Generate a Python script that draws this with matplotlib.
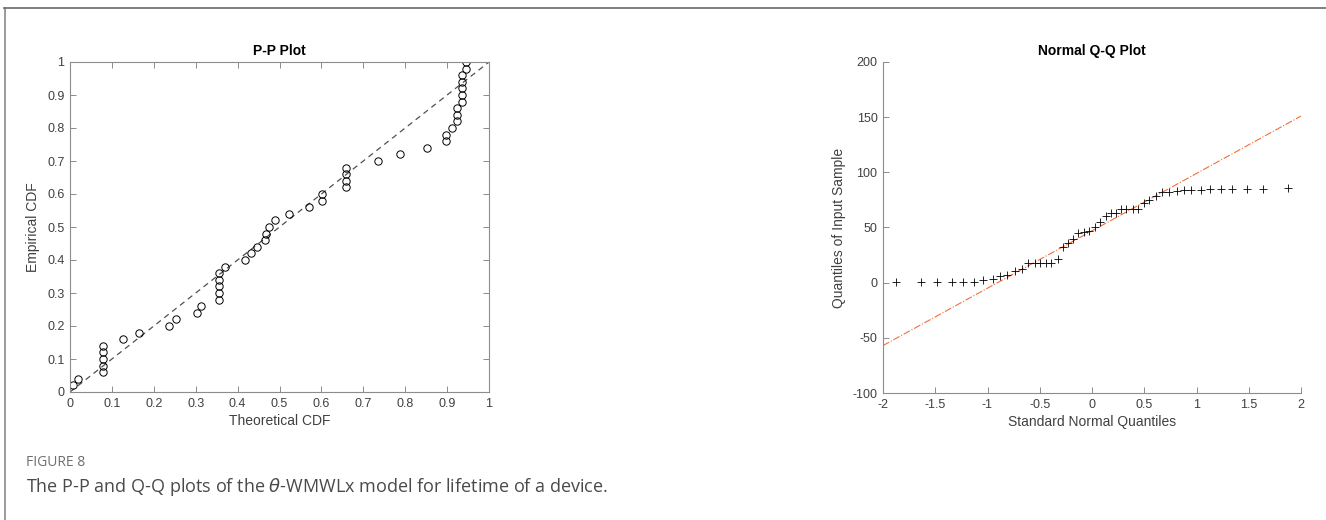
import matplotlib
matplotlib.use("Agg")
import matplotlib.pyplot as plt
from matplotlib.lines import Line2D
from matplotlib.ticker import FormatStrFormatter

plt.rcParams["font.family"] = ["Liberation Sans", "DejaVu Sans"]
plt.rcParams["axes.unicode_minus"] = False

# ----------------------------
# P-P plot data (theoretical vs empirical CDF)
# ----------------------------
pp_theoretical = [
    0.008, 0.020, 0.078, 0.078, 0.078, 0.078, 0.078, 0.127, 0.165, 0.236,
    0.253, 0.302, 0.312, 0.356, 0.356, 0.356, 0.356, 0.356, 0.371, 0.418,
    0.432, 0.446, 0.466, 0.468, 0.474, 0.489, 0.523, 0.570, 0.602, 0.602,
    0.658, 0.658, 0.658, 0.658, 0.736, 0.787, 0.853, 0.897, 0.897, 0.911,
    0.923, 0.923, 0.923, 0.935, 0.935, 0.935, 0.935, 0.935, 0.944, 0.944,
]
pp_empirical = [
    0.02, 0.04, 0.06, 0.08, 0.10, 0.12, 0.14, 0.16, 0.18, 0.20,
    0.22, 0.24, 0.26, 0.28, 0.30, 0.32, 0.34, 0.36, 0.38, 0.40,
    0.42, 0.44, 0.46, 0.48, 0.50, 0.52, 0.54, 0.56, 0.58, 0.60,
    0.62, 0.64, 0.66, 0.68, 0.70, 0.72, 0.74, 0.76, 0.78, 0.80,
    0.82, 0.84, 0.86, 0.88, 0.90, 0.92, 0.94, 0.96, 0.98, 1.00,
]
pp_diag = [0, 1]

# ----------------------------
# Q-Q plot data (standard normal quantiles vs sorted sample)
# ----------------------------
qq_normal = [
    -2.33, -1.88, -1.64, -1.48, -1.34, -1.23, -1.13, -1.04, -0.95, -0.88,
    -0.81, -0.74, -0.67, -0.61, -0.55, -0.50, -0.44, -0.39, -0.33, -0.28,
    -0.23, -0.18, -0.13, -0.08, -0.03, 0.03, 0.08, 0.13, 0.18, 0.23,
    0.28, 0.33, 0.39, 0.44, 0.50, 0.55, 0.61, 0.67, 0.74, 0.81,
    0.88, 0.95, 1.04, 1.13, 1.23, 1.34, 1.48, 1.64, 1.88, 2.33,
]
qq_sample = [
    0.1, 0.2, 1, 1, 1, 1, 1, 2, 3, 6,
    7, 11, 12, 18, 18, 18, 18, 18, 21, 32,
    36, 40, 45, 46, 47, 50, 55, 60, 63, 63,
    67, 67, 67, 67, 72, 75, 79, 82, 82, 83,
    84, 84, 84, 85, 85, 85, 85, 85, 86, 86,
]
qq_ref_x = [-2, 2]
qq_ref_y = [-57, 151]

pp_ticks = [0, 0.1, 0.2, 0.3, 0.4, 0.5, 0.6, 0.7, 0.8, 0.9, 1]
qq_xticks = [-2, -1.5, -1, -0.5, 0, 0.5, 1, 1.5, 2]
qq_yticks = [-100, -50, 0, 50, 100, 150, 200]

AX_COLOR = "#8c8c8c"
TXT_COLOR = "#404040"
TICK_SIZE = 9
LABEL_SIZE = 10

fig = plt.figure(figsize=(13.26, 5.2), dpi=100)

# ----------------------------
# P-P plot
# ----------------------------
ax1 = fig.add_axes([70 / 1326, 128 / 520, 419 / 1326, 330 / 520])
ax1.plot(pp_diag, pp_diag, linestyle=(0, (4.5, 3.5)), color="#505050", linewidth=0.9)
ax1.plot(pp_theoretical, pp_empirical, linestyle="none", marker="o",
         markersize=5.3, markerfacecolor="none", markeredgecolor="black",
         markeredgewidth=0.7)
ax1.set_xlim(0, 1)
ax1.set_ylim(0, 1)
ax1.set_xticks(pp_ticks)
ax1.set_yticks(pp_ticks)
ax1.xaxis.set_major_formatter(FormatStrFormatter("%g"))
ax1.yaxis.set_major_formatter(FormatStrFormatter("%g"))
ax1.tick_params(direction="in", length=4, width=0.7, color=AX_COLOR,
                labelcolor=TXT_COLOR, labelsize=TICK_SIZE, top=True, right=True, pad=4)
for s in ax1.spines.values():
    s.set_color(AX_COLOR)
    s.set_linewidth(0.8)
ax1.set_title("P-P Plot", fontsize=LABEL_SIZE, fontweight="bold", pad=5)
ax1.set_xlabel("Theoretical CDF", fontsize=LABEL_SIZE, color=TXT_COLOR, labelpad=3)
ax1.set_ylabel("Empirical CDF", fontsize=LABEL_SIZE, color=TXT_COLOR, labelpad=5)

# ----------------------------
# Q-Q plot
# ----------------------------
ax2 = fig.add_axes([883 / 1326, 127 / 520, 418 / 1326, 331 / 520])
ax2.plot(qq_ref_x, qq_ref_y, linestyle="-.", color="#f0703a", linewidth=0.8)
ax2.plot(qq_normal, qq_sample, linestyle="none", marker="+", markersize=5.5,
         color="black", markeredgewidth=0.6)
ax2.set_xlim(-2, 2)
ax2.set_ylim(-100, 200)
ax2.set_xticks(qq_xticks)
ax2.set_yticks(qq_yticks)
ax2.xaxis.set_major_formatter(FormatStrFormatter("%g"))
ax2.yaxis.set_major_formatter(FormatStrFormatter("%g"))
ax2.tick_params(direction="in", length=4, width=0.7, color=AX_COLOR,
                labelcolor=TXT_COLOR, labelsize=TICK_SIZE, pad=4)
ax2.spines["top"].set_visible(False)
ax2.spines["right"].set_visible(False)
for s in ("left", "bottom"):
    ax2.spines[s].set_color(AX_COLOR)
    ax2.spines[s].set_linewidth(0.8)
ax2.set_title("Normal Q-Q Plot", fontsize=LABEL_SIZE, fontweight="bold", pad=5)
ax2.set_xlabel("Standard Normal Quantiles", fontsize=LABEL_SIZE, color=TXT_COLOR, labelpad=3)
ax2.set_ylabel("Quantiles of Input Sample", fontsize=LABEL_SIZE, color=TXT_COLOR, labelpad=5)

# ----------------------------
# Frame and caption
# ----------------------------
fig.add_artist(Line2D([4.5 / 1326, 4.5 / 1326], [0, 1 - 8 / 520],
                      transform=fig.transFigure, color="#8a8a8a", linewidth=1.2))
fig.add_artist(Line2D([4 / 1326, 1], [1 - 8 / 520, 1 - 8 / 520],
                      transform=fig.transFigure, color="#6a6a6a", linewidth=1.2))

fig.text(26 / 1326, 1 - 462 / 520, "FIGURE 8", fontsize=10, color="#6f6f6f",
         family=["Open Sans", "DejaVu Sans"], va="center")
fig.text(26 / 1326, 1 - 487 / 520,
         r"The P-P and Q-Q plots of the $\theta$-WMWLx model for lifetime of a device.",
         fontsize=13, color="#4a4a4a", family=["Open Sans", "DejaVu Sans"],
         va="center")

fig.savefig("out.png", dpi=100)
